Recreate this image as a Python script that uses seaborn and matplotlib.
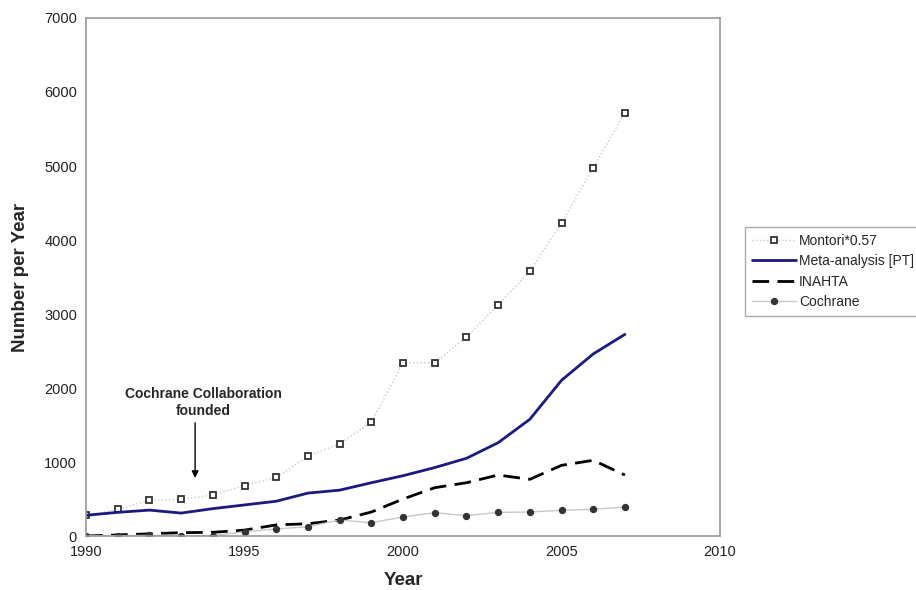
import matplotlib
matplotlib.use("Agg")
import matplotlib.pyplot as plt
import pandas as pd
import seaborn as sns

years = list(range(1990, 2008))
montori = [280, 360, 482, 496, 554, 680, 793, 1077, 1248, 1536,
           2342, 2342, 2689, 3122, 3581, 4225, 4977, 5720]
meta = [280, 320, 350, 310, 370, 420, 470, 580, 620, 720,
        815, 925, 1050, 1261, 1577, 2104, 2460, 2725]
inahta = [0, 15, 30, 45, 50, 80, 150, 166, 216, 324,
          500, 653, 720, 824, 766, 955, 1023, 824]
cochrane = [2, 5, 8, 5, 4, 58, 95, 126, 216, 180,
            257, 315, 275, 320, 324, 347, 361, 392]

df = pd.DataFrame({"Year": years, "Montori": montori, "Meta": meta,
                   "INAHTA": inahta, "Cochrane": cochrane})

sns.set_style("white")
plt.rcParams['font.family'] = ['Liberation Sans', 'DejaVu Sans']

fig = plt.figure(figsize=(9.16, 5.90), dpi=100)
ax = fig.add_axes([0.094, 0.0915, 0.692, 0.878])

sns.lineplot(data=df, x="Year", y="Montori", ax=ax, color="#c8c8c8",
             linestyle=":", linewidth=1, marker="s", markersize=5,
             markerfacecolor="white", markeredgecolor="#333333",
             markeredgewidth=1.3, label="Montori*0.57")
sns.lineplot(data=df, x="Year", y="Meta", ax=ax, color="#1a1a80",
             linewidth=2, label="Meta-analysis [PT]")
sns.lineplot(data=df, x="Year", y="INAHTA", ax=ax, color="black",
             linewidth=2, dashes=(6, 3), label="INAHTA")
sns.lineplot(data=df, x="Year", y="Cochrane", ax=ax, color="#c8c8c8",
             linewidth=1, marker="o", markersize=4.5,
             markerfacecolor="#333333", markeredgecolor="#333333",
             label="Cochrane")

ax.set_xlim(1990, 2010)
ax.set_ylim(0, 7000)
ax.set_xticks(range(1990, 2011, 5))
ax.set_yticks(range(0, 7001, 1000))
ax.tick_params(labelsize=10.5, length=3, direction="out",
               color="#aaaaaa", labelcolor="#222222")
for s in ax.spines.values():
    s.set_color("#999999")
    s.set_linewidth(1.2)

ax.set_xlabel("Year", fontsize=13.5, fontweight="bold", labelpad=9)
ax.set_ylabel("Number per Year", fontsize=13.5, fontweight="bold", labelpad=11)

# note + arrow
ax.text(1993.7, 1800, "Cochrane Collaboration\nfounded", ha="center",
        va="center", fontsize=10, fontweight="bold", linespacing=1.3)
ax.annotate("", xy=(1993.44, 784), xytext=(1993.44, 1530),
            arrowprops=dict(arrowstyle="-|>", color="black", lw=1,
                            mutation_scale=10, shrinkA=0, shrinkB=0))

leg = ax.legend(loc="upper left", bbox_to_anchor=(0.813, 0.615),
                bbox_transform=fig.transFigure, fontsize=10, frameon=True,
                fancybox=False, edgecolor="#999999", handlelength=3.2,
                handletextpad=0.2, borderpad=0.5, labelspacing=0.45,
                borderaxespad=0)
leg.get_frame().set_linewidth(1)

fig.savefig("out.png", dpi=100)
